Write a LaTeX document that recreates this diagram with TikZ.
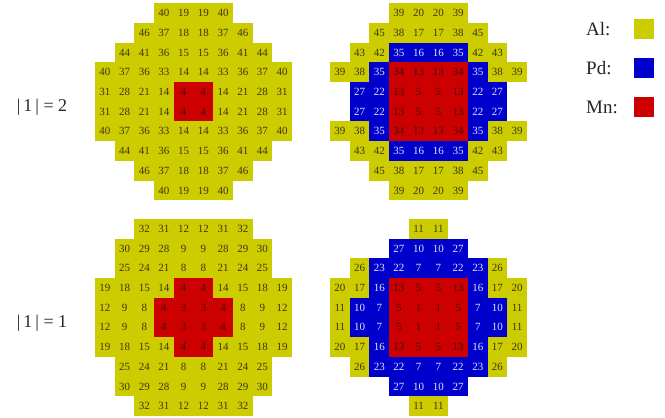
\documentclass[tikz,border=0pt]{standalone}
\usepackage{fontspec}
\setmainfont{Liberation Serif}
\definecolor{alc}{RGB}{204,204,0}
\definecolor{pdc}{RGB}{0,0,204}
\definecolor{mnc}{RGB}{204,0,0}
\definecolor{alt}{RGB}{60,55,20}
\definecolor{pdt}{RGB}{225,225,255}
\definecolor{mnt}{RGB}{70,15,15}
\tikzset{
  cell/.style={minimum size=19.9pt, inner sep=0pt, font=\fontsize{11}{12}\selectfont},
  al/.style={cell, fill=alc, text=alt},
  pd/.style={cell, fill=pdc, text=pdt},
  mn/.style={cell, fill=mnc, text=mnt},
  legtext/.style={anchor=west, inner sep=0pt, font=\fontsize{19}{22}\selectfont, text=black!85},
  legbox/.style={minimum size=20pt, inner sep=0pt},
  lab/.style={inner sep=0pt, font=\fontsize{18}{20}\selectfont, text=black!85}
}
\newcommand\gridrow[6]{%
  \foreach \t/\v [count=\i from #5] in #6 {
    \node[\t] (#1-#4-\i) at ({#2+(\i+0.5)*19.7}, {#3+(#4+0.5)*19.7}) {\v};
  }%
}
\begin{document}
\begin{tikzpicture}[x=1pt, y=-1pt]
\useasboundingbox (0,0) rectangle (665,418);
% ---- top-left grid
\def\ra{al/40,al/19,al/19,al/40}
\def\rb{al/46,al/37,al/18,al/18,al/37,al/46}
\def\rc{al/44,al/41,al/36,al/15,al/15,al/36,al/41,al/44}
\def\rd{al/40,al/37,al/36,al/33,al/14,al/14,al/33,al/36,al/37,al/40}
\def\re{al/31,al/28,al/21,al/14,mn/4,mn/4,al/14,al/21,al/28,al/31}
\gridrow{A}{95}{3.3}{0}{3}{\ra}
\gridrow{A}{95}{3.3}{1}{2}{\rb}
\gridrow{A}{95}{3.3}{2}{1}{\rc}
\gridrow{A}{95}{3.3}{3}{0}{\rd}
\gridrow{A}{95}{3.3}{4}{0}{\re}
\gridrow{A}{95}{3.3}{5}{0}{\re}
\gridrow{A}{95}{3.3}{6}{0}{\rd}
\gridrow{A}{95}{3.3}{7}{1}{\rc}
\gridrow{A}{95}{3.3}{8}{2}{\rb}
\gridrow{A}{95}{3.3}{9}{3}{\ra}
% ---- top-right grid
\def\ra{al/39,al/20,al/20,al/39}
\def\rb{al/45,al/38,al/17,al/17,al/38,al/45}
\def\rc{al/43,al/42,pd/35,pd/16,pd/16,pd/35,al/42,al/43}
\def\rd{al/39,al/38,pd/35,mn/34,mn/13,mn/13,mn/34,pd/35,al/38,al/39}
\def\re{pd/27,pd/22,mn/13,mn/5,mn/5,mn/13,pd/22,pd/27}
\gridrow{B}{330}{3.3}{0}{3}{\ra}
\gridrow{B}{330}{3.3}{1}{2}{\rb}
\gridrow{B}{330}{3.3}{2}{1}{\rc}
\gridrow{B}{330}{3.3}{3}{0}{\rd}
\gridrow{B}{330}{3.3}{4}{1}{\re}
\gridrow{B}{330}{3.3}{5}{1}{\re}
\gridrow{B}{330}{3.3}{6}{0}{\rd}
\gridrow{B}{330}{3.3}{7}{1}{\rc}
\gridrow{B}{330}{3.3}{8}{2}{\rb}
\gridrow{B}{330}{3.3}{9}{3}{\ra}
% ---- bottom-left grid
\def\ra{al/32,al/31,al/12,al/12,al/31,al/32}
\def\rb{al/30,al/29,al/28,al/9,al/9,al/28,al/29,al/30}
\def\rc{al/25,al/24,al/21,al/8,al/8,al/21,al/24,al/25}
\def\rd{al/19,al/18,al/15,al/14,mn/4,mn/4,al/14,al/15,al/18,al/19}
\def\re{al/12,al/9,al/8,mn/4,mn/3,mn/3,mn/4,al/8,al/9,al/12}
\gridrow{C}{95}{219}{0}{2}{\ra}
\gridrow{C}{95}{219}{1}{1}{\rb}
\gridrow{C}{95}{219}{2}{1}{\rc}
\gridrow{C}{95}{219}{3}{0}{\rd}
\gridrow{C}{95}{219}{4}{0}{\re}
\gridrow{C}{95}{219}{5}{0}{\re}
\gridrow{C}{95}{219}{6}{0}{\rd}
\gridrow{C}{95}{219}{7}{1}{\rc}
\gridrow{C}{95}{219}{8}{1}{\rb}
\gridrow{C}{95}{219}{9}{2}{\ra}
% ---- bottom-right grid
\def\ra{al/11,al/11}
\def\rb{pd/27,pd/10,pd/10,pd/27}
\def\rc{al/26,pd/23,pd/22,pd/7,pd/7,pd/22,pd/23,al/26}
\def\rd{al/20,al/17,pd/16,mn/13,mn/5,mn/5,mn/13,pd/16,al/17,al/20}
\def\re{al/11,pd/10,pd/7,mn/5,mn/1,mn/1,mn/5,pd/7,pd/10,al/11}
\gridrow{D}{330}{219}{0}{4}{\ra}
\gridrow{D}{330}{219}{1}{3}{\rb}
\gridrow{D}{330}{219}{2}{1}{\rc}
\gridrow{D}{330}{219}{3}{0}{\rd}
\gridrow{D}{330}{219}{4}{0}{\re}
\gridrow{D}{330}{219}{5}{0}{\re}
\gridrow{D}{330}{219}{6}{0}{\rd}
\gridrow{D}{330}{219}{7}{1}{\rc}
\gridrow{D}{330}{219}{8}{3}{\rb}
\gridrow{D}{330}{219}{9}{4}{\ra}
% ---- row labels
\node[lab] (lab2) at (42,107) {|\,1\,| = 2};
\node[lab] (lab1) at (42,323) {|\,1\,| = 1};
% ---- legend
\node[legtext] (tal) at (586,29) {Al:};
\node[legtext] (tpd) at (586,68) {Pd:};
\node[legtext] (tmn) at (586,107) {Mn:};
\node[legbox, fill=alc] (bal) at (644,29) {};
\node[legbox, fill=pdc] (bpd) at (644,68) {};
\node[legbox, fill=mnc] (bmn) at (644,107) {};
\end{tikzpicture}
\end{document}
